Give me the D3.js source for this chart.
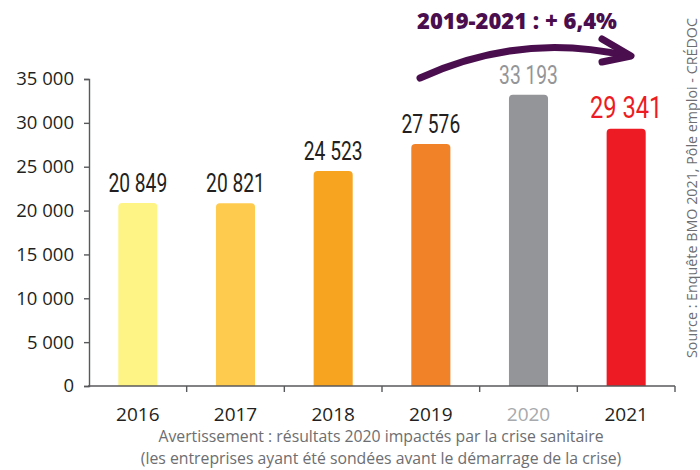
<!DOCTYPE html>
<html>
<head>
<meta charset="utf-8">
<script src="https://cdn.jsdelivr.net/npm/d3@7"></script>
<style>
  html, body { margin: 0; padding: 0; background: #fff; }
  svg { display: block; }
</style>
</head>
<body>
<svg id="chart" width="700" height="470"></svg>
<script>
// ---- data ----
const years = ["2016", "2017", "2018", "2019", "2020", "2021"];
const values = [20849, 20821, 24523, 27576, 33193, 29341];
const yTicks = [0, 5000, 10000, 15000, 20000, 25000, 30000, 35000];
const title = "2019-2021 : + 6,4%";
const note1 = "Avertissement : résultats 2020 impactés par la crise sanitaire";
const note2 = "(les entreprises ayant été sondées avant le démarrage de la crise)";
const source = "Source : Enquête BMO 2021, Pôle emploi - CRÉDOC";

// ---- styles ----
const barColors = ["#FEF385", "#FECB4F", "#F7A520", "#F28227", "#949598", "#ED1C24"];
const labelColors = ["#231F20", "#231F20", "#231F20", "#231F20", "#949598", "#ED1C24"];
const yearColors = ["#231F20", "#231F20", "#231F20", "#231F20", "#A7A9AC", "#231F20"];
const labelSizes = [26, 26, 26, 26, 26, 32];
const axisColor = "#58595B";
const purple = "#4A0E4E";
const font = "'Open Sans', 'Noto Sans', sans-serif";

const svg = d3.select("#chart");

const x = d3.scaleBand().domain(years).range([89, 675]).paddingInner(0.6).paddingOuter(0.3);
const y = d3.scaleLinear().domain([0, 35000]).range([386, 79]);
const step = x.step(), bw = x.bandwidth();
const fmt = v => d3.format(",")(v).replace(/,/g, " ");

// bars with rounded top corners
const r = 4;
function barPath(x0, y0, w, h) {
  return `M${x0},${y0 + h}V${y0 + r}Q${x0},${y0} ${x0 + r},${y0}H${x0 + w - r}Q${x0 + w},${y0} ${x0 + w},${y0 + r}V${y0 + h}Z`;
}
svg.append("g").selectAll("path").data(years).join("path")
  .attr("d", (d, i) => barPath(x(d), y(values[i]), bw, y(0) - y(values[i])))
  .attr("fill", (d, i) => barColors[i]);

// value labels (condensed look)
svg.append("g").selectAll("text").data(years).join("text")
  .attr("transform", (d, i) => `translate(${x(d) + bw / 2},${y(values[i]) - 11}) scale(0.74,1)`)
  .attr("text-anchor", "middle")
  .attr("font-family", "Roboto, sans-serif")
  .attr("font-size", (d, i) => labelSizes[i])
  .attr("fill", (d, i) => labelColors[i])
  .text((d, i) => fmt(values[i]));

// y axis
const yAxis = svg.append("g").attr("transform", "translate(89,0)")
  .call(d3.axisLeft(y).tickValues(yTicks).tickSize(5).tickPadding(10).tickFormat(fmt));
yAxis.selectAll("path, line").attr("stroke", axisColor).attr("stroke-width", 1.4);
yAxis.selectAll("text").attr("font-family", font).attr("font-size", 18.5).attr("fill", "#231F20");

// x axis line with boundary ticks
const xg = svg.append("g");
xg.append("line").attr("x1", 88).attr("x2", x.range()[1]).attr("y1", y(0)).attr("y2", y(0))
  .attr("stroke", axisColor).attr("stroke-width", 1.6);
xg.selectAll("line.tk").data(years).join("line").attr("class", "tk")
  .attr("x1", d => x(d) + bw / 2 + step / 2).attr("x2", d => x(d) + bw / 2 + step / 2)
  .attr("y1", y(0)).attr("y2", y(0) + 6)
  .attr("stroke", axisColor).attr("stroke-width", 1.4);

// year labels via axis
const xAxis = svg.append("g").attr("transform", `translate(0,${y(0)})`)
  .call(d3.axisBottom(x).tickSize(0).tickPadding(21.5));
xAxis.select(".domain").remove();
xAxis.selectAll("text").attr("font-family", font).attr("font-size", 19)
  .attr("fill", (d, i) => yearColors[i]);

// footnote
svg.append("text").attr("x", 381).attr("y", 442).attr("text-anchor", "middle")
  .attr("font-family", font).attr("font-size", 15.8).attr("fill", "#6D6E71").text(note1);
svg.append("text").attr("x", 381).attr("y", 464).attr("text-anchor", "middle")
  .attr("font-family", font).attr("font-size", 15.8).attr("fill", "#6D6E71").text(note2);

// source (vertical)
svg.append("text").attr("transform", "translate(697,358) rotate(-90)")
  .attr("font-family", font).attr("font-size", 14.3).attr("fill", "#6D6E71").text(source);

// title + arrow
svg.append("text").attr("x", 417).attr("y", 29)
  .attr("font-family", font).attr("font-weight", 800).attr("font-size", 22)
  .attr("fill", purple).text(title);
svg.append("path")
  .attr("d", "M420,78 C470,55 540,36 627,56")
  .attr("fill", "none").attr("stroke", purple).attr("stroke-width", 7).attr("stroke-linecap", "round");
svg.append("path")
  .attr("d", "M602,39 L631,56 L602,62")
  .attr("fill", "none").attr("stroke", purple).attr("stroke-width", 7)
  .attr("stroke-linecap", "round").attr("stroke-linejoin", "round");
</script>
</body>
</html>
